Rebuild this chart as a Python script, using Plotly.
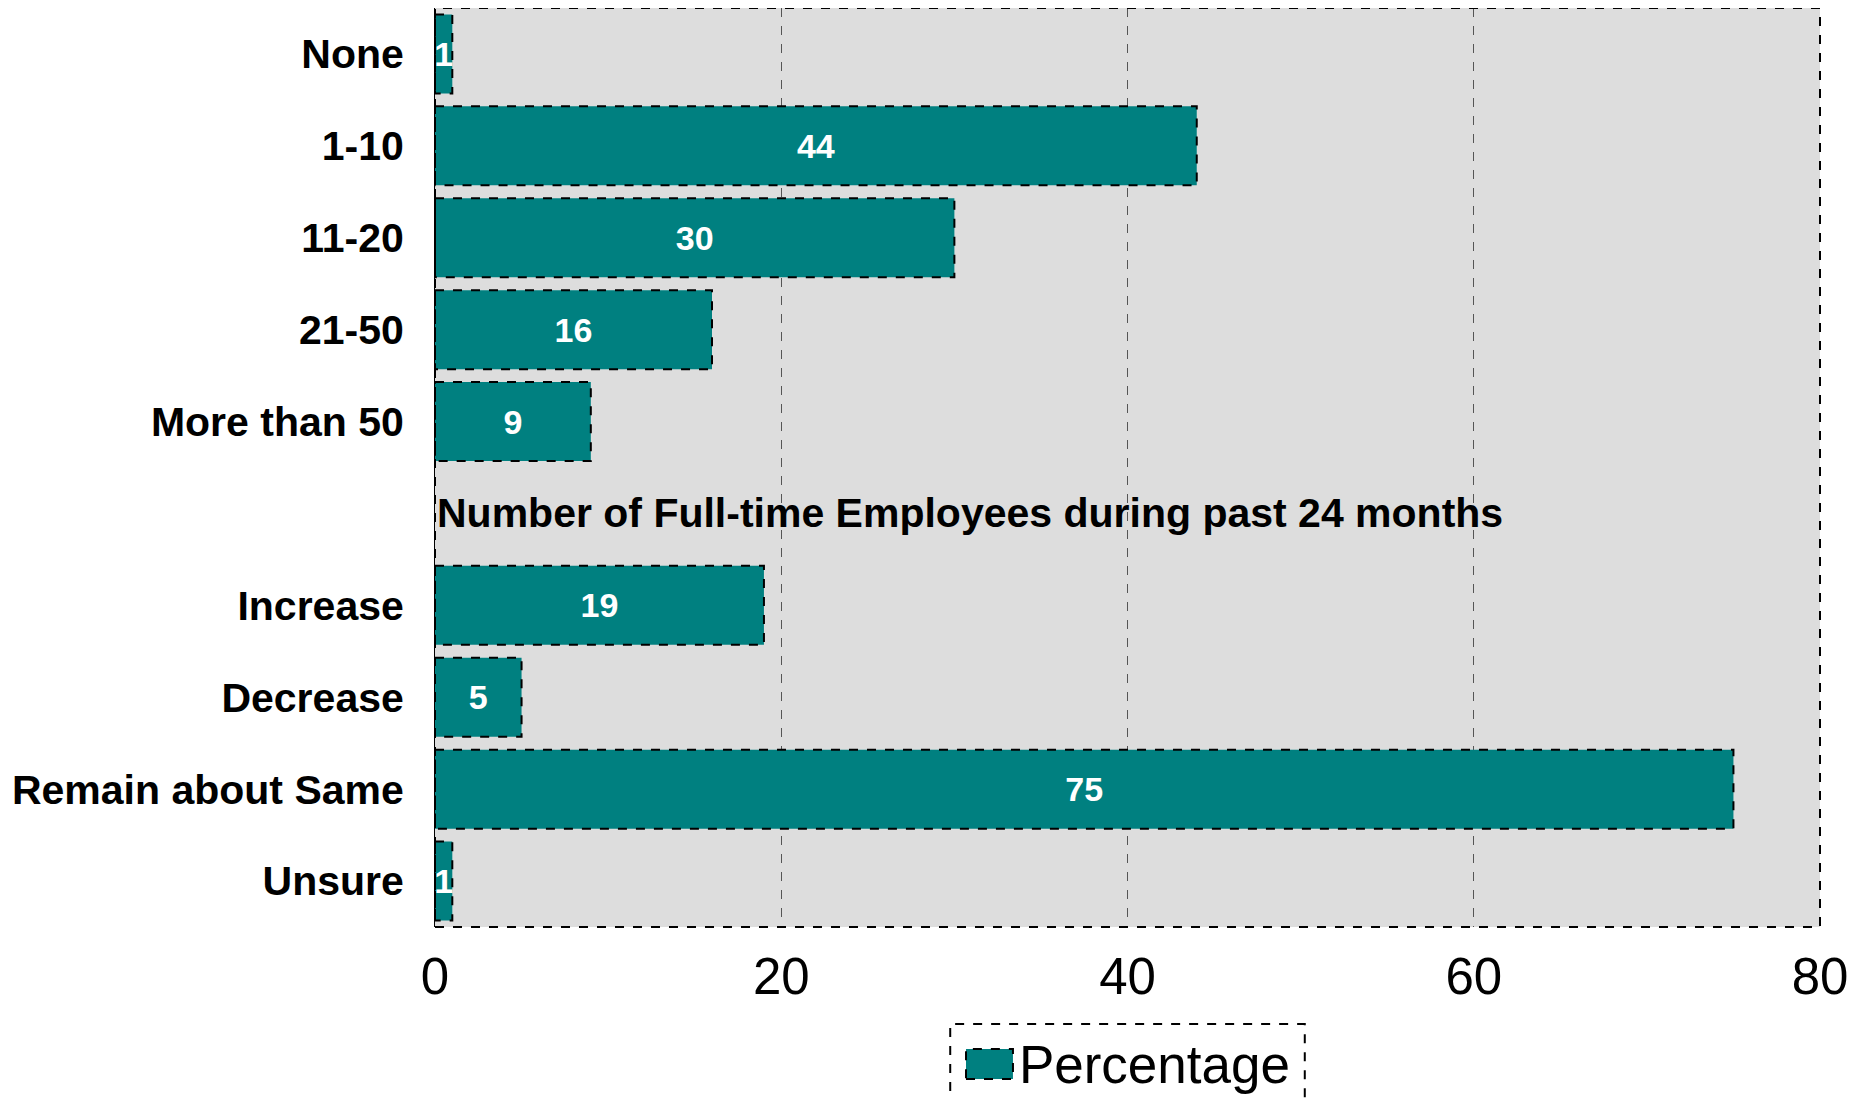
import plotly.graph_objects as go

categories = ["None", "1-10", "11-20", "21-50", "More than 50", " ",
              "Increase", "Decrease", "Remain about Same", "Unsure"]
values = [1, 44, 30, 16, 9, None, 19, 5, 75, 1]
section_title = "Number of Full-time Employees during past 24 months"
series_name = "Percentage"
x_ticks = [0, 20, 40, 60, 80]

TEAL = "#008080"
FONT = "Liberation Sans, Arial, sans-serif"
BAR_W = 0.86
DASH = dict(color="black", width=2, dash="dash")

fig = go.Figure()
fig.add_trace(go.Bar(
    x=values, y=categories, orientation="h", name=series_name,
    marker=dict(color=TEAL, line=dict(width=0)),
    width=BAR_W,
    text=[("" if v is None else str(v)) for v in values],
    textposition="inside", insidetextanchor="middle",
    constraintext="none",
    textfont=dict(family=FONT, size=34, color="white", weight="bold"),
    showlegend=True,
))

shapes = []
for i, v in enumerate(values):
    if v is None:
        continue
    shapes.append(dict(type="rect", xref="x", yref="y",
                       x0=0, x1=v, y0=i - BAR_W / 2, y1=i + BAR_W / 2,
                       line=DASH, layer="above"))
# plot border
shapes.append(dict(type="rect", xref="paper", yref="paper", x0=0, x1=1, y0=0, y1=1,
                   line=DASH, layer="above"))
# legend border
shapes.append(dict(type="rect", xref="paper", yref="paper", x0=0.372, x1=0.628,
                   y0=-0.25, y1=-0.1055, line=DASH, layer="above"))
# legend swatch (dashed-outline teal block over the legend symbol)
shapes.append(dict(type="rect", xref="paper", yref="paper", x0=0.3834, x1=0.4173,
                   y0=-0.1654, y1=-0.1328, fillcolor=TEAL, line=DASH, layer="above"))

fig.update_layout(
    width=1869, height=1100,
    margin=dict(l=427, r=57, t=0, b=181),
    plot_bgcolor="#DDDDDD", paper_bgcolor="white",
    bargap=0.14,
    shapes=shapes,
    annotations=[dict(text=f"<b>{section_title}</b>", x=0, y=5, xref="x", yref="y",
                      xanchor="left", yanchor="middle", showarrow=False,
                      font=dict(family=FONT, size=41, color="black"))],
    legend=dict(orientation="h", xref="paper", x=0.3927, xanchor="left",
                yref="container", y=0.079, yanchor="top",
                font=dict(family=FONT, size=53, color="black"),
                bgcolor="rgba(0,0,0,0)", itemwidth=30),
    xaxis=dict(range=[0, 80], tickvals=x_ticks, showgrid=True,
               gridcolor="#555555", griddash="dash", gridwidth=1,
               zeroline=False, showline=False, ticks="", ticklabelstandoff=15,
               tickfont=dict(family=FONT, size=51, color="black")),
    yaxis=dict(type="category", categoryorder="array", categoryarray=categories,
               autorange="reversed", showgrid=False, zeroline=False,
               showline=True, linecolor="black", linewidth=1,
               ticks="", ticklabelstandoff=22,
               tickfont=dict(family=FONT, size=41, color="black", weight="bold")),
)

fig.write_html("out.html")
